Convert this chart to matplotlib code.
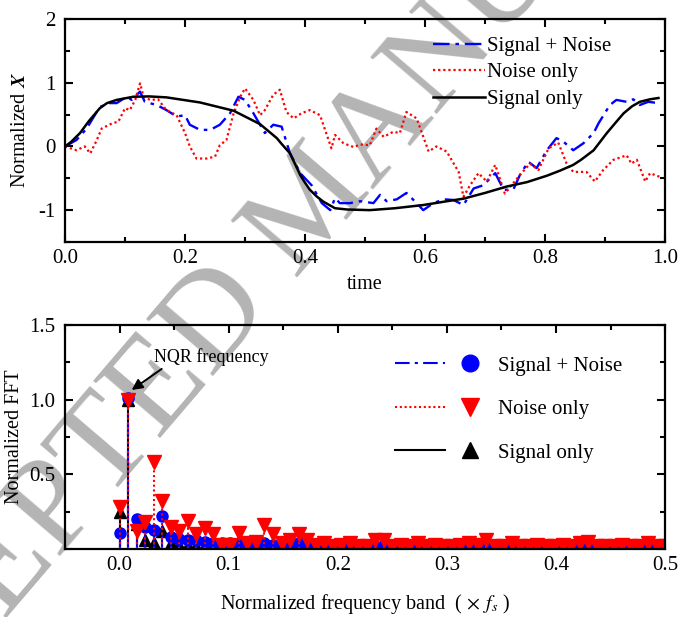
import numpy as np
import matplotlib
matplotlib.use("Agg")
import matplotlib.pyplot as plt
from matplotlib.lines import Line2D
from matplotlib.legend_handler import HandlerTuple
from matplotlib.ticker import MultipleLocator

plt.rcParams['font.family'] = ['Liberation Serif', 'DejaVu Serif']
plt.rcParams['mathtext.fontset'] = 'stix'
plt.rcParams['axes.unicode_minus'] = False

# --- time domain traces ---
noisy_t = [0, .019, .036, .058, .075, .086, .103, .111, .125, .133, .153, .169, .186, .2, .208,
           .225, .242, .258, .275, .289, .3, .314, .333, .347, .361, .375, .392, .411, .428, .442,
           .45, .458, .475, .492, .514, .525, .536, .553, .569, .586, .597, .614, .631, .647, .664,
           .681, .697, .717, .731, .747, .758, .772, .786, .803, .819, .83, .847, .864, .881, .889,
           .908, .919, .936, .947, .958, .972, .989]
noisy_v = [0, .1, .28, .62, .68, .68, .78, .73, .86, .70, .65, .57, .47, .49, .34,
           .26, .26, .34, .52, .78, .73, .52, .21, .34, .31, -.11, -.42, -.61, -.89, -1.0,
           -.81, -.89, -.89, -.86, -.89, -.76, -.86, -.83, -.73, -.89, -1.0, -.89, -.83, -.84, -.92,
           -.66, -.61, -.42, -.68, -.68, -.45, -.24, -.34, -.06, .13, .08, -.06, .05, .21, .36,
           .65, .73, .70, .74, .65, .70, .68]

noise_t = [0, .019, .033, .042, .053, .061, .078, .089, .1, .108, .117, .125, .131, .142, .155,
           .169, .186, .2, .208, .219, .236, .25, .258, .269, .281, .292, .3, .314, .325, .333,
           .347, .358, .369, .381, .394, .408, .425, .444, .45, .464, .481, .492, .508, .519, .531,
           .547, .558, .569, .586, .606, .619, .636, .656, .664, .675, .689, .703, .717, .733, .744,
           .758, .775, .789, .806, .822, .836, .847, .869, .883, .897, .914, .936, .944, .953, .967,
           .975, .992]
noise_v = [0, -.06, 0, -.11, .1, .28, .36, .39, .6, .57, .73, .99, .78, .73, .74,
           .57, .49, .21, 0, -.19, -.19, -.16, .02, .1, .52, .78, .91, .73, .49, .57,
           .81, .89, .54, .44, .52, .57, .49, -.03, .18, .05, -.01, .03, .02, .28, .15,
           .23, .21, .54, .44, -.08, 0, -.08, -.4, -.79, -.61, -.42, -.55, -.29, -.74, -.61,
           -.45, -.27, -.37, -.03, .06, -.27, -.4, -.4, -.55, -.37, -.21, -.14, -.27, -.21, -.55,
           -.42, -.48]

signal_t = [0, .01, .025, .04, .058, .07, .086, .114, .14, .169, .225, .281, .325, .353, .36,
            .375, .392, .4, .408, .42, .431, .45, .47, .508, .55, .597, .63, .664, .7, .736,
            .77, .803, .825, .847, .86, .881, .903, .92, .931, .945, .958, .975, .989]
signal_v = [0, .07, .21, .4, .6, .68, .73, .78, .785, .77, .69, .56, .35, .13, .05,
            -.11, -.45, -.57, -.68, -.79, -.87, -.97, -.99, -1.0, -.97, -.92, -.87, -.82, -.73, -.63,
            -.56, -.46, -.38, -.29, -.21, -.06, .21, .4, .52, .63, .70, .74, .76]

# --- FFT magnitudes, bins k/128 ---
bin_index = np.arange(65)
freq = bin_index / 128

noisy_fft = [0.11, 1.01, 0.20, 0.15, 0.13, 0.22, 0.08, 0.07, 0.06, 0.06,
             0.05, 0.04, 0.04, 0.04, 0.04, 0.04, 0.04, 0.04, 0.03, 0.04,
             0.03, 0.04, 0.03, 0.03, 0.03, 0.02, 0.03, 0.02, 0.03, 0.02,
             0.02, 0.03, 0.02, 0.02, 0.03, 0.02, 0.02, 0.02, 0.03, 0.02,
             0.02, 0.02, 0.02, 0.03, 0.02, 0.02, 0.02, 0.03, 0.02, 0.02,
             0.02, 0.02, 0.02, 0.03, 0.02, 0.02, 0.02, 0.02, 0.02, 0.03,
             0.02, 0.02, 0.02, 0.02, 0.02]
noise_fft = [0.28, 1.00, 0.12, 0.18, 0.58, 0.32, 0.15, 0.12, 0.19, 0.10,
             0.14, 0.10, 0.03, 0.03, 0.11, 0.04, 0.05, 0.16, 0.10, 0.04,
             0.06, 0.10, 0.06, 0.03, 0.04, 0.02, 0.03, 0.04, 0.02, 0.02,
             0.06, 0.06, 0.02, 0.03, 0.02, 0.04, 0.02, 0.03, 0.02, 0.02,
             0.03, 0.04, 0.03, 0.06, 0.02, 0.02, 0.04, 0.02, 0.02, 0.03,
             0.02, 0.02, 0.03, 0.02, 0.04, 0.05, 0.02, 0.02, 0.02, 0.03,
             0.02, 0.02, 0.04, 0.02, 0.02]
signal_fft = [0.25, 1.00, 0.17, 0.06, 0.04, 0.12, 0.04, 0.03, 0.03, 0.02,
              0.03, 0.02, 0.02, 0.01, 0.02, 0.01, 0.01, 0.02, 0.01, 0.01,
              0.01, 0.01, 0.01, 0.01, 0.01, 0.01, 0.01, 0.01, 0.01, 0.01,
              0.01, 0.01, 0.01, 0.01, 0.01, 0.01, 0.01, 0.01, 0.01, 0.01,
              0.01, 0.01, 0.01, 0.01, 0.01, 0.01, 0.01, 0.01, 0.01, 0.01,
              0.01, 0.01, 0.01, 0.01, 0.01, 0.01, 0.01, 0.01, 0.01, 0.01,
              0.01, 0.01, 0.01, 0.01, 0.01]

labels = ['Signal + Noise', 'Noise only', 'Signal only']
dashdot = (0, (7, 2.5, 1.5, 2.5))
dotted = (0, (1, 1.3))

fig = plt.figure(figsize=(6.78, 6.17), dpi=100)
fig.patch.set_facecolor('white')
ax1 = fig.add_axes([0.0959, 0.6078, 0.8850, 0.3614])
ax2 = fig.add_axes([0.0959, 0.1102, 0.8850, 0.3630])

# watermark behind both panels
fig.text(0.465, 0.665, 'ACCEPTED MANUSCRIPT', rotation=49.5, rotation_mode='anchor',
         ha='center', va='center', fontsize=96, color='#b4b4b4', zorder=-1)

for ax in (ax1, ax2):
    ax.set_facecolor('none')
    for s in ax.spines.values():
        s.set_linewidth(1.6)
    ax.tick_params(which='both', direction='in', top=True, right=True, width=1.5, labelsize=15)
    ax.tick_params(which='major', length=6)
    ax.tick_params(which='minor', length=3.5)

# top panel
ax1.plot(noisy_t, noisy_v, color='blue', ls=dashdot, lw=1.7, label=labels[0])
ax1.plot(noise_t, noise_v, color='red', ls=dotted, lw=1.6, label=labels[1])
ax1.plot(signal_t, signal_v, color='black', lw=1.8, label=labels[2])
ax1.set_xlim(0, 1)
ax1.set_ylim(-1.5, 2)
ax1.set_xticks([0, 0.2, 0.4, 0.6, 0.8, 1.0])
ax1.set_xticklabels(['0.0', '0.2', '0.4', '0.6', '0.8', '1.0'])
ax1.xaxis.set_minor_locator(MultipleLocator(0.1))
ax1.yaxis.set_major_locator(MultipleLocator(1))
ax1.yaxis.set_minor_locator(MultipleLocator(0.5))
ax1.tick_params(axis='x', pad=5)
ax1.tick_params(axis='y', pad=7)
ax1.set_xlabel('time', fontsize=14.5)
ax1.xaxis.set_label_coords(0.5, -0.15)
ax1.set_ylabel(r'Normalized $\boldsymbol{X}$', fontsize=14.5)
ax1.yaxis.set_label_coords(-0.058, 0.5)
ax1.legend(loc='upper left', bbox_to_anchor=(0.613, 0.922), frameon=False, fontsize=15,
           handlelength=2.5, handletextpad=0.1, labelspacing=0.33, borderpad=0, borderaxespad=0)

# bottom panel: drop lines with markers
ax2.vlines(freq, 0, signal_fft, colors='black', lw=1.5)
ax2.plot(freq, signal_fft, '^', color='black', ms=9, ls='none')
ax2.vlines(freq, 0, noisy_fft, colors='blue', lw=1.5, linestyles=[dashdot])
ax2.plot(freq, noisy_fft, 'o', color='blue', ms=8, ls='none')
ax2.vlines(freq, 0, noise_fft, colors='red', lw=1.5, linestyles=[dotted])
ax2.plot(freq, noise_fft, 'v', color='red', ms=9.5, ls='none')

ax2.set_xlim(-0.05, 0.5)
ax2.set_ylim(0, 1.5)
ax2.set_xticks([0, 0.1, 0.2, 0.3, 0.4, 0.5])
ax2.set_xticklabels(['0.0', '0.1', '0.2', '0.3', '0.4', '0.5'])
ax2.xaxis.set_minor_locator(MultipleLocator(0.05))
ax2.set_yticks([0, 0.5, 1.0, 1.5])
ax2.set_yticklabels(['', '0.5', '1.0', '1.5'])
ax2.yaxis.set_minor_locator(MultipleLocator(0.25))
ax2.tick_params(axis='x', pad=5)
ax2.tick_params(axis='y', pad=7)
ax2.set_xlabel(r'Normalized frequency band  ( $\times\;\,f_s$ )', fontsize=14.5)
ax2.xaxis.set_label_coords(0.5, -0.19)
ax2.set_ylabel('Normalized FFT', fontsize=14.5)
ax2.yaxis.set_label_coords(-0.068, 0.5)

ax2.annotate('', xy=(0.0111, 1.065), xytext=(0.0386, 1.206),
             arrowprops=dict(arrowstyle='-|>', color='black', lw=1.4,
                             mutation_scale=16, shrinkA=0, shrinkB=0))
ax2.text(0.0316, 1.288, 'NQR frequency', fontsize=13, ha='left', va='center')

handles = [
    (Line2D([], [], color='blue', ls=dashdot, lw=1.5),
     Line2D([], [], color='blue', marker='o', ms=12, ls='none')),
    (Line2D([], [], color='red', ls=dotted, lw=1.5),
     Line2D([], [], color='red', marker='v', ms=13, ls='none')),
    (Line2D([], [], color='black', lw=1.5),
     Line2D([], [], color='black', marker='^', ms=12, ls='none')),
]
ax2.legend(handles, labels, handler_map={tuple: HandlerTuple(ndivide=None, pad=0)},
           loc='upper left', bbox_to_anchor=(0.55, 0.862), frameon=False, fontsize=15,
           numpoints=1, handlelength=4.8, handletextpad=0.15, labelspacing=1.15,
           borderpad=0, borderaxespad=0)

fig.savefig('out.png', dpi=100)
